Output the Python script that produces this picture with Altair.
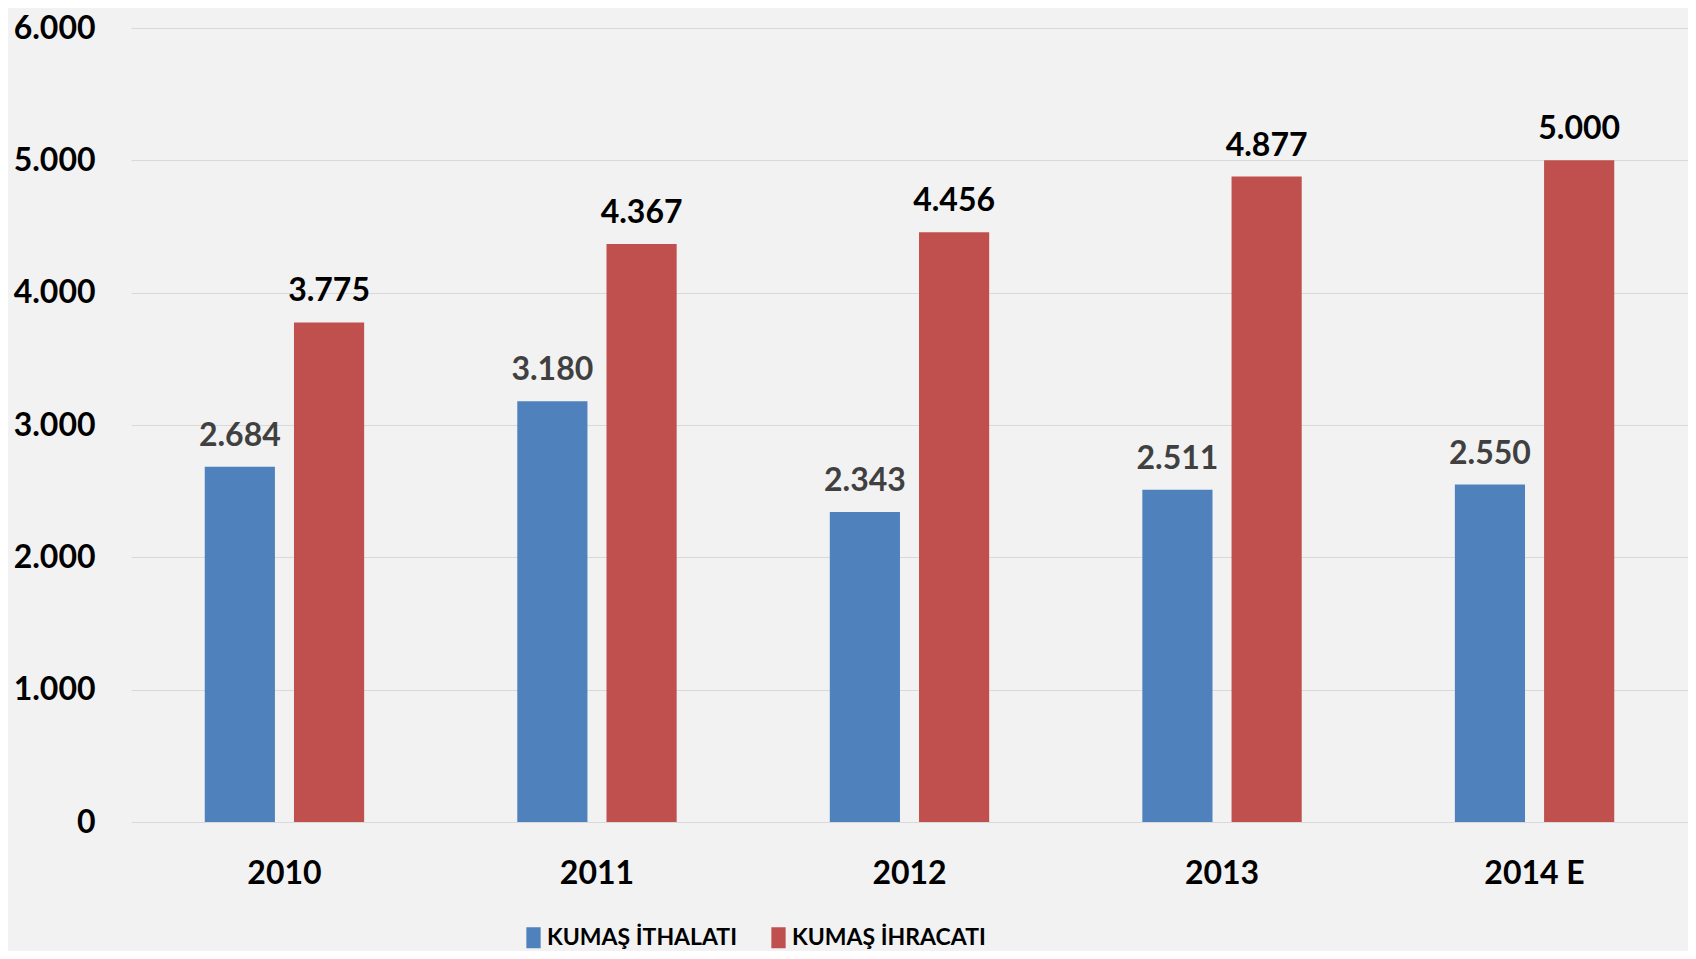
import altair as alt
import pandas as pd

years = ["2010", "2011", "2012", "2013", "2014 E"]
series_names = ["KUMAŞ İTHALATI", "KUMAŞ İHRACATI"]
imports = [2684, 3180, 2343, 2511, 2550]
exports = [3775, 4367, 4456, 4877, 5000]
y_ticks = [0, 1000, 2000, 3000, 4000, 5000, 6000]

colors = ["#4f81bd", "#c0504d"]
label_colors = ["#404040", "#000000"]


def tr_fmt(v):
    return f"{v:,}".replace(",", ".")


rows = []
for si, (name, vals) in enumerate(zip(series_names, [imports, exports])):
    for yr, v in zip(years, vals):
        rows.append({"year": yr, "series": name, "value": v,
                     "label": tr_fmt(v), "lblcolor": label_colors[si]})
df = pd.DataFrame(rows)

FONT = "Lato"

x_enc = alt.X("year:N", sort=years,
              scale=alt.Scale(paddingInner=0.49, paddingOuter=0.236),
              axis=alt.Axis(title=None, labelAngle=0, labelFont=FONT, labelFontSize=32,
                            labelFontWeight="bold", labelColor="#000000", ticks=False,
                            domain=False, labelPadding=36, labelBaseline="top"))
xo_enc = alt.XOffset("series:N", sort=series_names,
                     scale=alt.Scale(paddingInner=0.2135, paddingOuter=0))
y_enc = alt.Y("value:Q", scale=alt.Scale(domain=[0, 6000], nice=False),
              axis=alt.Axis(title=None, values=y_ticks, grid=True, gridColor="#d9d9d9",
                            gridWidth=1.2, ticks=False, domain=False, labelPadding=36,
                            labelFont=FONT, labelFontSize=32, labelFontWeight="bold",
                            labelColor="#000000",
                            labelExpr="replace(format(datum.value, ','), ',', '.')"))

bars = alt.Chart(df).mark_bar().encode(
    x=x_enc,
    xOffset=xo_enc,
    y=y_enc,
    color=alt.Color("series:N", sort=series_names,
                    scale=alt.Scale(domain=series_names, range=colors),
                    legend=alt.Legend(title=None, orient="none", legendX=391, legendY=898,
                                      direction="horizontal",
                                      symbolType="M-0.68,-1H0.68V1H-0.68Z",
                                      symbolSize=441, symbolStrokeWidth=0,
                                      labelFont=FONT, labelFontSize=23,
                                      labelFontWeight="bold", labelColor="#000000",
                                      labelLimit=0, labelOffset=2, columnPadding=30)),
)

labels = alt.Chart(df).mark_text(font=FONT, fontSize=32, fontWeight="bold",
                                 baseline="alphabetic", dy=-21).encode(
    x=alt.X("year:N", sort=years),
    xOffset=alt.XOffset("series:N", sort=series_names),
    y=alt.Y("value:Q"),
    text="label:N",
    color=alt.Color("lblcolor:N", scale=None),
)

chart = (bars + labels).properties(
    width=1557, height=794,
    autosize=alt.AutoSizeParams(type="none"),
    padding={"left": 123, "top": 20, "right": 0, "bottom": 129},
    background="#f2f2f2",
).configure_view(stroke=None)

chart.save("out.html", embed_options={"renderer": "svg", "actions": False})
